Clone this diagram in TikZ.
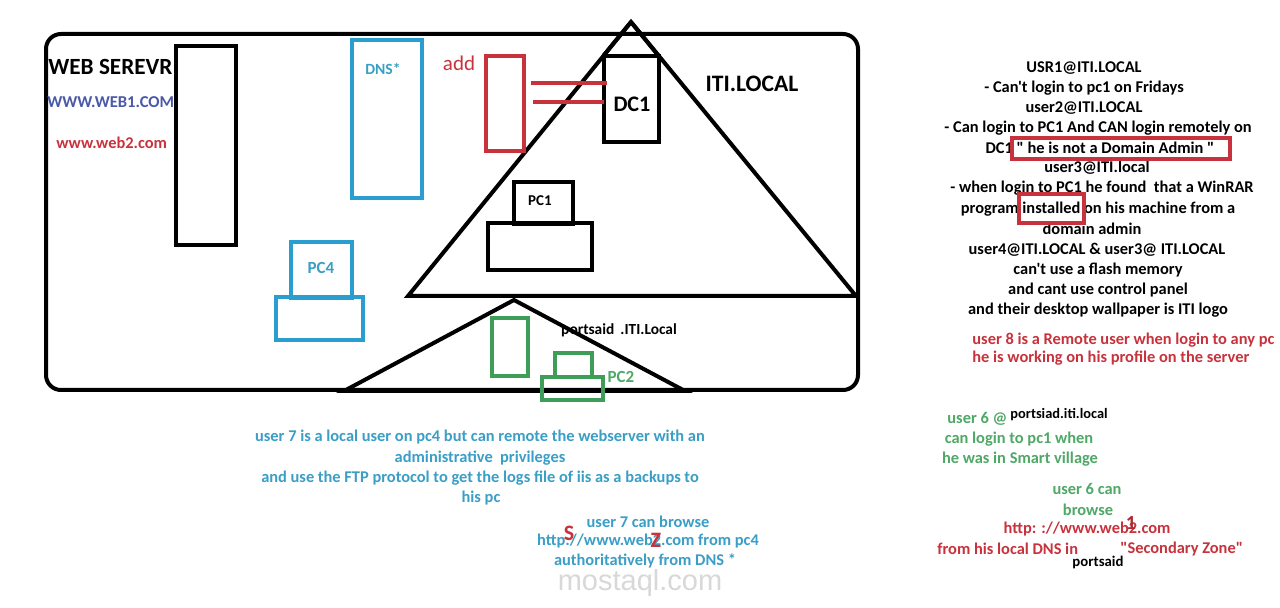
\documentclass[tikz,border=0pt]{standalone}
\usepackage{fontspec}
\setmainfont{Carlito}[Ligatures=TeXOff]
\newfontfamily\wmfont{Liberation Sans}
\definecolor{cblue}{HTML}{2A9FCF}
\definecolor{tblue}{HTML}{3A9EC6}
\definecolor{cred}{HTML}{C8323C}
\definecolor{cgreen}{HTML}{3E9E58}
\definecolor{tgreen}{HTML}{4FA866}
\definecolor{cpurple}{HTML}{4A59A8}
\definecolor{wm}{HTML}{D8D8D8}
\tikzset{
  box/.style={draw, line width=2pt, inner sep=0pt},
  bbox/.style={box, draw=cblue},
  rbox/.style={box, draw=cred},
  gbox/.style={box, draw=cgreen},
  txt/.style={inner sep=0pt, font=\bfseries\fontsize{8.2}{9}\selectfont},
  small/.style={inner sep=0pt, font=\bfseries\fontsize{7.8}{8}\selectfont},
  conn/.style={draw=cred, line width=2pt},
}
\begin{document}
\begin{tikzpicture}[x=0.5pt,y=-0.5pt]
\useasboundingbox[fill=white] (0,0) rectangle (1280,608);
% main frame
\node[box, rounded corners=7.5pt, minimum width=406pt, minimum height=178pt] (main) at (452,212) {};
% big triangle and small triangle
\draw[line width=2pt, line join=miter] (631,22) -- (856,296) -- (408,296) -- cycle;
\draw[line width=2pt] (514,300) -- (685,391) -- (344,391) -- cycle;
% web server
\node[box, minimum width=30pt, minimum height=99.5pt] (web) at (206,145.5) {};
\node[inner sep=0pt, font=\bfseries\fontsize{11.6}{12}\selectfont, anchor=west] (webt) at (48,67) {WEB SEREVR};
\node[inner sep=0pt, font=\bfseries\fontsize{8.3}{9}\selectfont, text=cpurple, anchor=west] (w1) at (47,102) {WWW.WEB1.COM};
\node[inner sep=0pt, font=\bfseries\fontsize{8.2}{9}\selectfont, text=cred, anchor=west] (w2) at (56,143) {www.web2.com};
% DNS
\node[bbox, minimum width=35pt, minimum height=79pt] (dns) at (387,119) {};
\node[small, text=tblue] (dnst) at (383,69) {DNS*};
% add
\node[rbox, minimum width=19pt, minimum height=47.5pt] (add) at (505,103.5) {};
\node[inner sep=0pt, font=\fontsize{10.5}{11}\selectfont, text=cred] (addt) at (459,63) {add};
% DC1
\node[box, fill=white, minimum width=27.5pt, minimum height=43pt] (dc1) at (631.5,99) {};
\node[inner sep=0pt, font=\bfseries\fontsize{11.1}{12}\selectfont] (dc1t) at (632,104) {DC1};
\node[inner sep=0pt, font=\bfseries\fontsize{11.8}{12}\selectfont] (iti) at (752,84) {ITI.LOCAL};
% redraw triangle edges over DC1 box
\draw[line width=2pt] (631,22) -- (659,56.3);
\draw[line width=2pt] (631,22) -- (604,55);
% connectors add -> DC1
\coordinate (l1) at (0,83);
\coordinate (l2) at (0,102);
\draw[conn] ([xshift=2.5pt]add.east |- l1) -- ([xshift=2.5pt]dc1.west |- l1);
\draw[conn] ([xshift=3.5pt]add.east |- l2) -- ([xshift=1pt]dc1.west |- l2);
% PC1
\node[box, minimum width=29.5pt, minimum height=21pt] (pc1m) at (543.5,203) {};
\node[small, font=\bfseries\fontsize{7.5}{8}\selectfont] (pc1t) at (540,201) {PC1};
\node[box, minimum width=52pt, minimum height=23.5pt] (pc1b) at (540,246.5) {};
% PC4
\node[bbox, minimum width=30.5pt, minimum height=28pt] (pc4m) at (321.5,270) {};
\node[small, font=\bfseries\fontsize{8.5}{9}\selectfont, text=tblue] (pc4t) at (321,268) {PC4};
\node[bbox, minimum width=43.5pt, minimum height=21.5pt] (pc4b) at (319.5,318.5) {};
% portsaid domain
\node[gbox, minimum width=18pt, minimum height=29pt] (srv2) at (510,347) {};
\node[gbox, minimum width=18.5pt, minimum height=12pt] (pc2m) at (573.5,365) {};
\node[gbox, minimum width=30.5pt, minimum height=11.5pt] (pc2b) at (572.5,388.5) {};
\node[small, font=\bfseries\fontsize{8.5}{9}\selectfont, text=tgreen] (pc2t) at (621,377) {PC2};
\node[inner sep=0pt, font=\bfseries\fontsize{7.7}{8}\selectfont] (pst) at (619,330) {portsaid \,.ITI.Local};
% right text block
\node[txt] (r1) at (1084,68) {USR1@ITI.LOCAL};
\node[txt] (r2) at (1084,88) {- Can't login to pc1 on Fridays};
\node[txt] (r3) at (1084,108) {user2@ITI.LOCAL};
\node[txt] (r4) at (1098,128) {- Can login to PC1 And CAN login remotely on};
\node[txt] (r5) at (1100,148) {DC1 " he is not a Domain Admin "};
\node[txt] (r6) at (1097,168) {user3@ITI.local};
\node[txt] (r7) at (1102,188) {- when login to PC1 he found \ that a WinRAR};
\node[txt] (r8) at (1098,209) {program installed on his machine from a};
\node[txt] (r9) at (1092,229) {domain admin};
\node[txt] (r10) at (1097,250) {user4@ITI.LOCAL \& user3@ ITI.LOCAL};
\node[txt] (r11) at (1098,270) {can't use a flash memory};
\node[txt] (r12) at (1098,290) {and cant use control panel};
\node[txt] (r13) at (1098,310) {and their desktop wallpaper is ITI logo};
\node[rbox, minimum width=109pt, minimum height=10.5pt] (hl1) at (1121,148.5) {};
\node[rbox, minimum width=32.5pt, minimum height=14.5pt] (hl2) at (1051.5,208.5) {};
\node[txt, text=cred, anchor=west] (u8a) at (972,340) {user 8 is a Remote user when login to any pc};
\node[txt, text=cred, anchor=west] (u8b) at (972,358) {he is working on his profile on the server};
% user 6
\node[txt, text=tgreen, anchor=west] (u6a) at (947,419) {user 6 @};
\node[inner sep=0pt, font=\bfseries\fontsize{7.2}{8}\selectfont, anchor=west] (u6d) at (1010,415) {portsiad.iti.local};
\node[txt, text=tgreen] (u6b) at (1019,439) {can login to pc1 when};
\node[txt, text=tgreen] (u6c) at (1020,459) {he was in Smart village};
\node[txt, text=tgreen] (u6e) at (1087,489) {user 6 can};
\node[txt, text=tgreen] (u6f) at (1088,510) {browse};
\node[txt, text=cred] (u6g) at (1087,529) {http: ://www.web2.com};
\node[inner sep=0pt, font=\bfseries\fontsize{10}{10}\selectfont, text=cred!85!black] (one) at (1131,523) {1};
\node[txt, text=cred, anchor=west] (u6h) at (937,549) {from his local DNS in};
\node[txt, text=cred, anchor=west] (u6i) at (1120,549) {"Secondary Zone"};
\node[inner sep=0pt, font=\bfseries\fontsize{7.4}{8}\selectfont] (u6j) at (1098,562) {portsaid};
% user 7
\node[txt, text=tblue] (u7a) at (480,437) {user 7 is a local user on pc4 but can remote the webserver with an};
\node[txt, text=tblue] (u7b) at (480,458) {administrative \ privileges};
\node[txt, text=tblue] (u7c) at (480,478) {and use the FTP protocol to get the logs file of iis as a backups to};
\node[txt, text=tblue] (u7d) at (481,498) {his pc};
\node[inner sep=0pt, font=\wmfont\fontsize{14.5}{15}\selectfont, text=wm] (wmk) at (640,583) {mostaql.com};
\node[txt, text=tblue] (u7e) at (648,522) {user 7 can browse};
\node[txt, text=tblue] (u7f) at (648,541) {http://www.web2.com from pc4};
\node[txt, text=tblue] (u7g) at (645,561) {authoritatively from DNS *};
\node[inner sep=0pt, font=\bfseries\fontsize{11}{11}\selectfont, text=cred] (sS) at (569,533) {S};
\node[inner sep=0pt, font=\bfseries\fontsize{11}{11}\selectfont, text=cred] (zZ) at (656,540) {Z};
\end{tikzpicture}
\end{document}
